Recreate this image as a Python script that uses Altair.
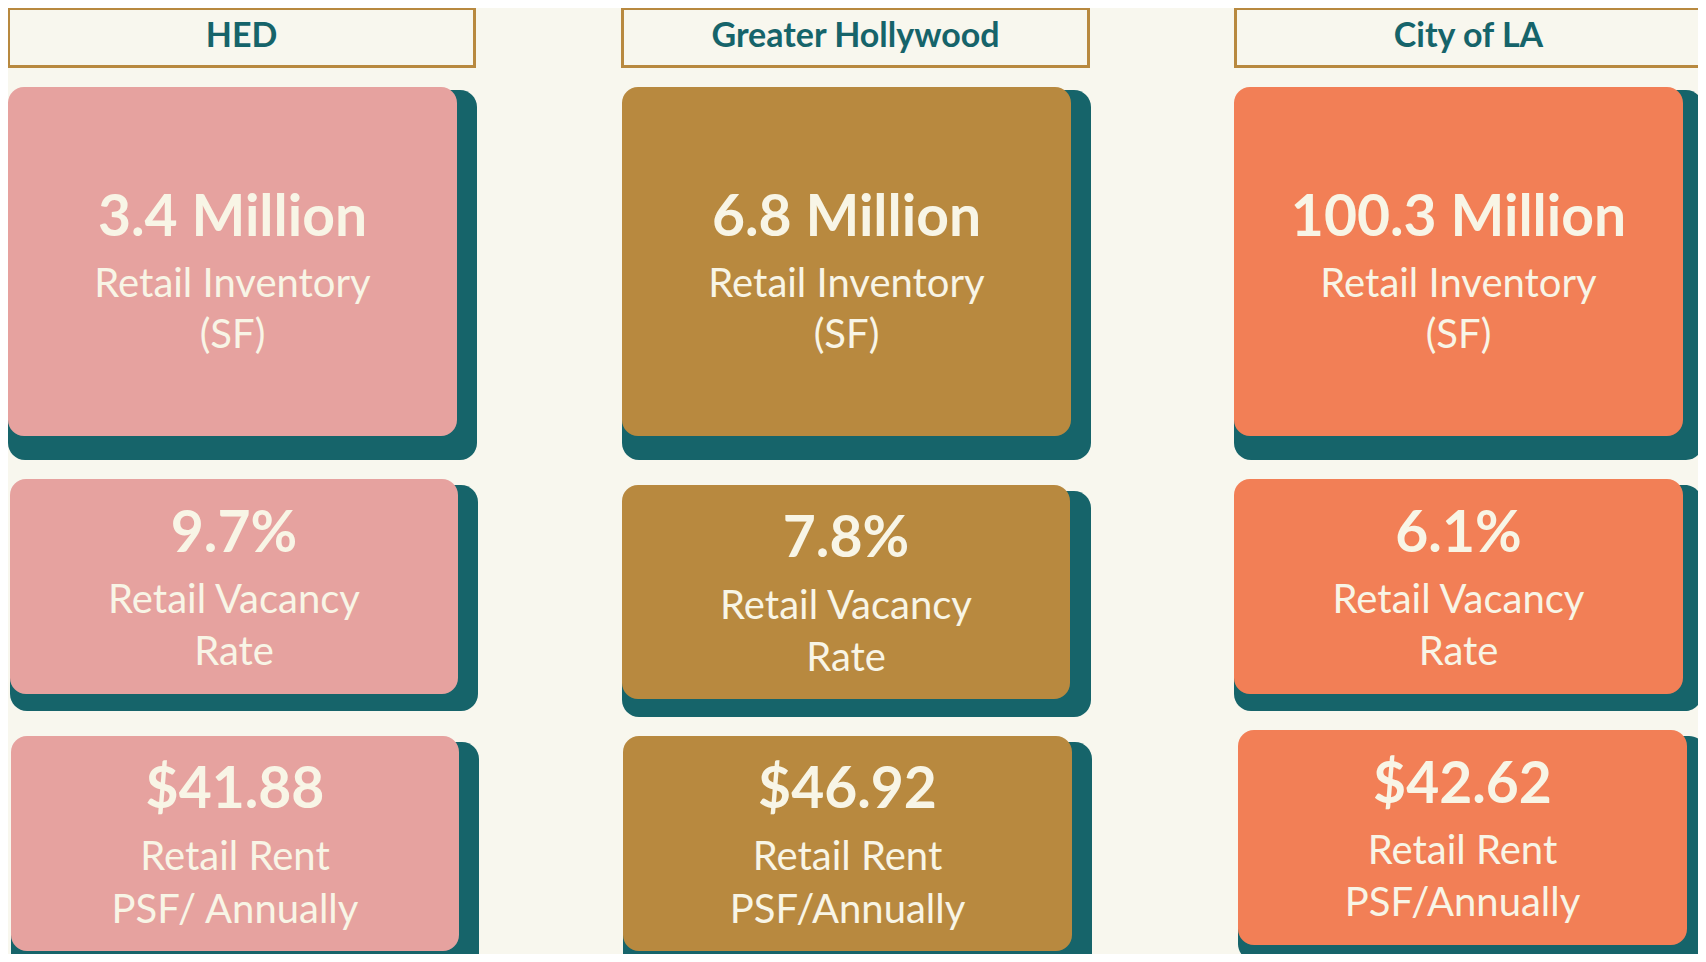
import altair as alt
import pandas as pd

# ---------------- data ----------------
regions = ["HED", "Greater Hollywood", "City of LA"]
metrics = ["Retail Inventory", "Retail Vacancy", "Retail Rent"]
inventory_values = ["3.4 Million", "6.8 Million", "100.3 Million"]
vacancy_values = ["9.7%", "7.8%", "6.1%"]
rent_values = ["$41.88", "$46.92", "$42.62"]
inventory_labels = [["Retail Inventory", "(SF)"]] * 3
vacancy_labels = [["Retail Vacancy", "Rate"]] * 3
rent_labels = [["Retail Rent", "PSF/ Annually"], ["Retail Rent", "PSF/Annually"], ["Retail Rent", "PSF/Annually"]]

# ---------------- styles ----------------
BG = "#F8F7EE"
TEAL = "#16646A"
GOLD = "#B8893F"
CREAM = "#F8F5E6"
card_colors = ["#E6A29F", "#B8893F", "#F27F56"]

# ---------------- layout (page pixel coordinates) ----------------
header_x = [(8.5, 474.5), (622.5, 1088.5), (1235.5, 1701.5)]
header_y = (8.5, 66.5)
# front card boxes per row, per column: (x0, y0, x1, y1)
front = [
    [(8, 87, 457, 436), (622, 87, 1071, 436), (1234, 87, 1683, 436)],
    [(10, 479, 458, 694), (622, 485, 1070, 699), (1234, 479, 1683, 694)],
    [(11, 736, 459, 951), (623, 736, 1072, 951), (1238, 730, 1687, 945)],
]
shadow = [
    [(8, 90, 477, 460), (622, 90, 1091, 460), (1234, 90, 1703, 460)],
    [(10, 485, 478, 711), (622, 491, 1091, 717), (1234, 485, 1702, 711)],
    [(11, 742, 479, 970), (623, 742, 1092, 970), (1238, 736, 1706, 961)],
]
# text baselines per row, per column: (value, line1, line2)
baselines = [
    [(236, 297, 348), (236, 297, 348), (236, 297, 348)],
    [(552, 613, 665), (557, 619, 671), (552, 613, 665)],
    [(808, 870, 923), (808, 870, 923), (803, 864, 916)],
]

values_by_row = [inventory_values, vacancy_values, rent_values]
labels_by_row = [inventory_labels, vacancy_labels, rent_labels]

rect_rows, value_rows, label_rows, header_rows = [], [], [], []
for c, reg in enumerate(regions):
    header_rows.append({"x": header_x[c][0], "x2": header_x[c][1],
                        "y": header_y[0], "y2": header_y[1],
                        "tx": (header_x[c][0] + header_x[c][1]) / 2, "ty": 47,
                        "text": reg})
    for r in range(3):
        sx0, sy0, sx1, sy1 = shadow[r][c]
        fx0, fy0, fx1, fy1 = front[r][c]
        rect_rows.append({"x": sx0, "x2": sx1, "y": sy0, "y2": sy1, "fill": TEAL, "order": 0})
        rect_rows.append({"x": fx0, "x2": fx1, "y": fy0, "y2": fy1, "fill": card_colors[c], "order": 1})
        cx = (fx0 + fx1) / 2
        b = baselines[r][c]
        value_rows.append({"tx": cx, "ty": b[0], "text": values_by_row[r][c]})
        for k, line in enumerate(labels_by_row[r][c]):
            label_rows.append({"tx": cx, "ty": b[k + 1], "text": line})

rects = pd.DataFrame(rect_rows)
vals = pd.DataFrame(value_rows)
labs = pd.DataFrame(label_rows)
heads = pd.DataFrame(header_rows)

W, H = 1690, 946
xs = alt.Scale(domain=[8, 8 + W], nice=False, zero=False)
ys = alt.Scale(domain=[8, 8 + H], nice=False, zero=False, reverse=True)

shadow_layer = alt.Chart(rects[rects.order == 0]).mark_rect(cornerRadius=17).encode(
    x=alt.X("x:Q", scale=xs, axis=None), x2="x2:Q",
    y=alt.Y("y:Q", scale=ys, axis=None), y2="y2:Q",
    fill=alt.Fill("fill:N", scale=None),
)
front_layer = alt.Chart(rects[rects.order == 1]).mark_rect(cornerRadius=16).encode(
    x=alt.X("x:Q", scale=xs, axis=None), x2="x2:Q",
    y=alt.Y("y:Q", scale=ys, axis=None), y2="y2:Q",
    fill=alt.Fill("fill:N", scale=None),
)
header_layer = alt.Chart(heads).mark_rect(fill=BG, stroke=GOLD, strokeWidth=3).encode(
    x=alt.X("x:Q", scale=xs, axis=None), x2="x2:Q",
    y=alt.Y("y:Q", scale=ys, axis=None), y2="y2:Q",
)
header_text = alt.Chart(heads).mark_text(
    align="center", baseline="alphabetic", font="Lato", fontSize=34,
    fontWeight="bold", color=TEAL,
).encode(x=alt.X("tx:Q", scale=xs, axis=None), y=alt.Y("ty:Q", scale=ys, axis=None), text="text:N")
value_text = alt.Chart(vals).mark_text(
    align="center", baseline="alphabetic", font="Lato", fontSize=57,
    fontWeight="bold", color=CREAM,
).encode(x=alt.X("tx:Q", scale=xs, axis=None), y=alt.Y("ty:Q", scale=ys, axis=None), text="text:N")
label_text = alt.Chart(labs).mark_text(
    align="center", baseline="alphabetic", font="Lato", fontSize=40,
    fontWeight="normal", color=CREAM,
).encode(x=alt.X("tx:Q", scale=xs, axis=None), y=alt.Y("ty:Q", scale=ys, axis=None), text="text:N")

chart = alt.layer(
    shadow_layer, front_layer, header_layer, header_text, value_text, label_text
).properties(
    width=W, height=H, padding=0, background=BG,
    autosize=alt.AutoSizeParams(type="none"),
).configure_view(stroke=None)

chart.save("out.html", embed_options={"renderer": "svg", "actions": False})
